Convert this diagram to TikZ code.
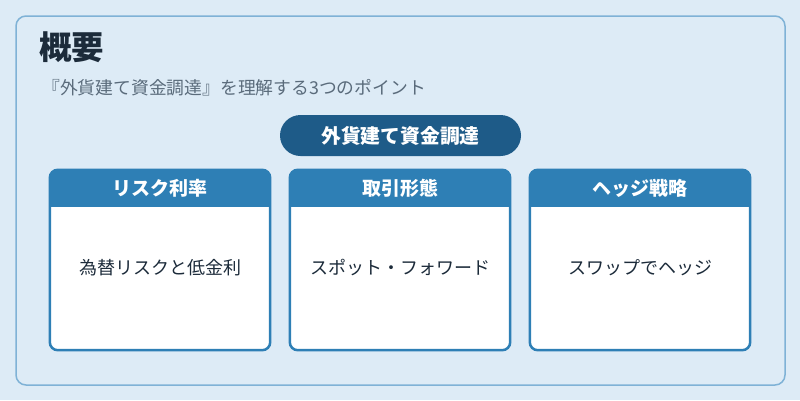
\documentclass[tikz,border=0pt]{standalone}
\usepackage{fontspec}
\setmainfont{Noto Sans CJK JP}
\usetikzlibrary{calc}
\definecolor{bgc}{HTML}{DDEBF6}
\definecolor{outerc}{HTML}{7FB2D6}
\definecolor{pillc}{HTML}{1E5B88}
\definecolor{hdrc}{HTML}{2E7FB5}
\definecolor{darktext}{HTML}{1C2B3A}
\definecolor{subtext}{HTML}{5A6B7B}
\tikzset{
  panelbox/.style={draw=outerc, line width=1.5pt, rounded corners=10pt, fill=bgc, minimum width=769pt, minimum height=369pt, inner sep=0pt},
  cardbox/.style={fill=white, minimum width=220pt, minimum height=180pt, inner sep=0pt, rounded corners=8pt},
  cardborder/.style={draw=hdrc, line width=2.5pt, rounded corners=8pt},
  pillbox/.style={fill=pillc, text=white, rounded corners=20.5pt, minimum width=241pt, minimum height=41pt, inner sep=0pt, font=\bfseries\fontsize{19.8}{22}\selectfont},
  hdrtext/.style={text=white, inner sep=0pt, font=\bfseries\fontsize{19}{22}\selectfont},
  bodytext/.style={text=darktext, inner sep=0pt, font=\fontsize{18}{22}\selectfont},
  titletext/.style={text=darktext, inner sep=0pt, anchor=west, font=\bfseries\fontsize{32.5}{36}\selectfont},
  subtitletext/.style={text=subtext, inner sep=0pt, anchor=west, font=\fontsize{17.8}{21}\selectfont}
}
\begin{document}
\begin{tikzpicture}[x=1pt,y=-1pt]
\fill[bgc] (0,0) rectangle (800,400);
\useasboundingbox (0,0) rectangle (800,400);
\node[panelbox] (panel) at (400.5,200.5) {};
\node[titletext] (title) at (39,47) {概要};
\node[subtitletext] (subtitle) at (42,88) {『外貨建て資金調達』を理解する3つのポイント};
\node[pillbox] (main) at (400.5,135.5) {外貨建て資金調達};
\foreach \i/\cx/\h/\b in {1/160/リスク利率/為替リスクと低金利, 2/400/取引形態/スポット・フォワード, 3/640/ヘッジ戦略/スワップでヘッジ}{
  \node[cardbox] (c\i) at (\cx,260) {};
  \begin{scope}
    \clip[rounded corners=8pt] (c\i.north west) rectangle (c\i.south east);
    \fill[hdrc] (c\i.north west) rectangle (c\i.east |- 0,207);
  \end{scope}
  \draw[cardborder] (c\i.north west) rectangle (c\i.south east);
  \node[hdrtext] (h\i) at (\cx,188) {\h};
  \node[bodytext] (b\i) at (\cx,268) {\b};
}
\end{tikzpicture}
\end{document}
